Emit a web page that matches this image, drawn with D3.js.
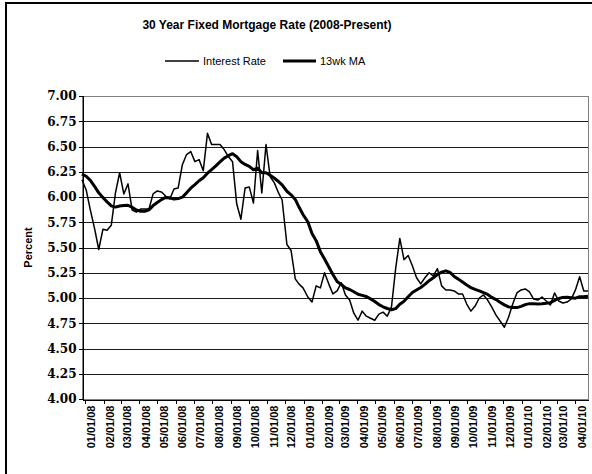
<!DOCTYPE html>
<html>
<head>
<meta charset="utf-8">
<script src="https://cdn.jsdelivr.net/npm/d3@7"></script>
<style>
  html, body { margin: 0; padding: 0; background: #fff; }
  svg { display: block; }
</style>
</head>
<body>
<svg id="chart" width="592" height="474"></svg>
<script>
// Weekly survey dates (Thursday releases, holiday weeks on Wednesday)
const weekDates = [
  "2007-12-27","2008-01-03","2008-01-10","2008-01-17","2008-01-24","2008-01-31","2008-02-07","2008-02-14",
  "2008-02-21","2008-02-28","2008-03-06","2008-03-13","2008-03-20","2008-03-27","2008-04-03","2008-04-10",
  "2008-04-17","2008-04-24","2008-05-01","2008-05-08","2008-05-15","2008-05-22","2008-05-29","2008-06-05",
  "2008-06-12","2008-06-19","2008-06-26","2008-07-03","2008-07-10","2008-07-17","2008-07-24","2008-07-31",
  "2008-08-07","2008-08-14","2008-08-21","2008-08-28","2008-09-04","2008-09-11","2008-09-18","2008-09-25",
  "2008-10-02","2008-10-09","2008-10-16","2008-10-23","2008-10-30","2008-11-06","2008-11-13","2008-11-20",
  "2008-11-26","2008-12-04","2008-12-11","2008-12-18","2008-12-24","2008-12-31","2009-01-08","2009-01-15",
  "2009-01-22","2009-01-29","2009-02-05","2009-02-12","2009-02-19","2009-02-26","2009-03-05","2009-03-12",
  "2009-03-19","2009-03-26","2009-04-02","2009-04-09","2009-04-16","2009-04-23","2009-04-30","2009-05-07",
  "2009-05-14","2009-05-21","2009-05-28","2009-06-04","2009-06-11","2009-06-18","2009-06-25","2009-07-02",
  "2009-07-09","2009-07-16","2009-07-23","2009-07-30","2009-08-06","2009-08-13","2009-08-20","2009-08-27",
  "2009-09-03","2009-09-10","2009-09-17","2009-09-24","2009-10-01","2009-10-08","2009-10-15","2009-10-22",
  "2009-10-29","2009-11-05","2009-11-12","2009-11-19","2009-11-25","2009-12-03","2009-12-10","2009-12-17",
  "2009-12-24","2009-12-31","2010-01-07","2010-01-14","2010-01-21","2010-01-28","2010-02-04","2010-02-11",
  "2010-02-18","2010-02-25","2010-03-04","2010-03-11","2010-03-18","2010-03-25","2010-04-01","2010-04-08",
  "2010-04-15","2010-04-22"
];

// 30-year fixed rate, percent
const interestRate = [
  6.17,6.07,5.87,5.69,5.48,5.68,5.67,5.72,
  6.04,6.24,6.03,6.13,5.87,5.85,5.88,5.88,
  5.88,6.03,6.06,6.05,6.01,5.98,6.08,6.09,
  6.32,6.42,6.45,6.35,6.37,6.26,6.63,6.52,
  6.52,6.52,6.47,6.40,6.35,5.93,5.78,6.09,
  6.10,5.94,6.46,6.04,6.52,6.20,6.14,6.04,
  5.97,5.53,5.47,5.19,5.14,5.10,5.01,4.96,
  5.12,5.10,5.25,5.14,5.04,5.07,5.15,5.03,
  4.98,4.85,4.78,4.87,4.82,4.80,4.78,4.84,
  4.86,4.82,4.91,5.29,5.59,5.38,5.42,5.32,
  5.20,5.14,5.20,5.25,5.22,5.29,5.12,5.08,
  5.08,5.07,5.04,5.04,4.94,4.87,4.92,5.00,
  5.03,4.98,4.91,4.83,4.78,4.71,4.81,4.94,
  5.05,5.08,5.09,5.06,4.99,4.98,5.01,4.97,
  4.93,5.05,4.97,4.95,4.96,4.99,5.08,5.21,
  5.07,5.07
];

// 13-week moving average, percent
const movingAvg13 = [
  6.227,6.205,6.165,6.106,6.041,5.996,5.952,5.912,
  5.900,5.911,5.916,5.918,5.897,5.872,5.858,5.858,
  5.873,5.915,5.945,5.974,5.996,5.992,5.979,5.984,
  5.998,6.041,6.087,6.123,6.161,6.190,6.236,6.272,
  6.308,6.347,6.385,6.409,6.429,6.399,6.350,6.322,
  6.303,6.270,6.285,6.240,6.240,6.215,6.186,6.153,
  6.120,6.057,6.022,5.976,5.903,5.826,5.755,5.639,
  5.568,5.459,5.386,5.309,5.232,5.163,5.134,5.100,
  5.084,5.062,5.037,5.026,5.015,4.991,4.966,4.935,
  4.913,4.896,4.884,4.895,4.938,4.968,5.012,5.054,
  5.079,5.104,5.135,5.171,5.200,5.233,5.256,5.269,
  5.253,5.213,5.187,5.158,5.128,5.103,5.086,5.071,
  5.054,5.035,5.006,4.984,4.961,4.932,4.912,4.905,
  4.905,4.917,4.934,4.944,4.944,4.940,4.942,4.947,
  4.954,4.975,4.995,5.006,5.008,5.003,4.998,5.012,
  5.012,5.018
];

// Axis tick values
const yTicks = [4.00,4.25,4.50,4.75,5.00,5.25,5.50,5.75,6.00,6.25,6.50,6.75,7.00];
const xTickMonths = [
  "2008-01-01","2008-02-01","2008-03-01","2008-04-01","2008-05-01","2008-06-01","2008-07-01",
  "2008-08-01","2008-09-01","2008-10-01","2008-11-01","2008-12-01","2009-01-01","2009-02-01",
  "2009-03-01","2009-04-01","2009-05-01","2009-06-01","2009-07-01","2009-08-01","2009-09-01",
  "2009-10-01","2009-11-01","2009-12-01","2010-01-01","2010-02-01","2010-03-01","2010-04-01"
];

const seriesNames = ["Interest Rate", "13wk MA"];
const titleText = "30 Year Fixed Mortgage Rate (2008-Present)";
const yAxisTitle = "Percent";

// ---- drawing ----
const parse = d3.utcParse("%Y-%m-%d");
const dates = weekDates.map(parse);
const tickDates = xTickMonths.map(parse);
const fmt = d3.utcFormat("%m/%d/%y");

const plot = { left: 82, right: 588, top: 96, bottom: 399 };

const x = d3.scaleUtc()
  .domain([dates[0], dates[dates.length - 1]])
  .range([plot.left, plot.right]);
const y = d3.scaleLinear()
  .domain([4, 7])
  .range([plot.bottom, plot.top]);

const svg = d3.select("#chart");

// chart area frame
svg.append("rect")
  .attr("x", 6).attr("y", 3)
  .attr("width", 640).attr("height", 520)
  .attr("fill", "#fff")
  .attr("stroke", "#000")
  .attr("stroke-width", 2);

// title
svg.append("text")
  .attr("x", 267).attr("y", 29)
  .attr("text-anchor", "middle")
  .attr("font-family", "'Liberation Sans', Arial, sans-serif")
  .attr("font-weight", "bold")
  .attr("font-size", 12)
  .attr("fill", "#000")
  .text(titleText);

// legend
const legend = svg.append("g").attr("font-family", "'Liberation Sans', Arial, sans-serif")
  .attr("font-size", 11);
const legendItems = [
  { name: seriesNames[0], x1: 165, x2: 199, w: 1.5 },
  { name: seriesNames[1], x1: 283, x2: 316, w: 3 }
];
legendItems.forEach(it => {
  legend.append("line")
    .attr("x1", it.x1).attr("x2", it.x2)
    .attr("y1", 61).attr("y2", 61)
    .attr("stroke", "#000").attr("stroke-width", it.w);
  legend.append("text")
    .attr("x", it.x2 + 4).attr("y", 65)
    .attr("fill", "#000")
    .text(it.name);
});

// plot area border
svg.append("rect")
  .attr("x", plot.left + 0.5).attr("y", plot.top + 0.5)
  .attr("width", plot.right - plot.left).attr("height", plot.bottom - plot.top)
  .attr("fill", "#fff")
  .attr("stroke", "#808080")
  .attr("stroke-width", 1)
  .attr("shape-rendering", "crispEdges");

// horizontal gridlines
svg.append("g")
  .selectAll("line")
  .data(yTicks.filter(v => v > 4 && v < 7))
  .join("line")
  .attr("x1", plot.left).attr("x2", plot.right)
  .attr("y1", d => Math.round(y(d)) + 0.5)
  .attr("y2", d => Math.round(y(d)) + 0.5)
  .attr("stroke", "#1a1a1a")
  .attr("stroke-width", 1)
  .attr("shape-rendering", "crispEdges");

// y axis
const yAxis = svg.append("g")
  .attr("transform", `translate(${plot.left + 0.5},0)`)
  .call(d3.axisLeft(y).tickValues(yTicks).tickFormat(d3.format(".2f")).tickSize(4).tickPadding(2));
yAxis.select(".domain").attr("stroke", "#000").attr("shape-rendering", "crispEdges");
yAxis.selectAll(".tick line").attr("stroke", "#000").attr("shape-rendering", "crispEdges");
yAxis.selectAll(".tick text")
  .attr("font-family", "'DejaVu Serif', serif")
  .attr("font-weight", "bold")
  .attr("font-size", 12)
  .attr("fill", "#000");

// x axis
const xAxis = svg.append("g")
  .attr("transform", `translate(0,${plot.bottom + 0.5})`)
  .call(d3.axisBottom(x).tickValues(tickDates).tickFormat(fmt).tickSize(4).tickSizeOuter(0));
xAxis.select(".domain").attr("stroke", "#000").attr("shape-rendering", "crispEdges");
xAxis.selectAll(".tick line").attr("stroke", "#000").attr("shape-rendering", "crispEdges");
xAxis.selectAll(".tick text")
  .attr("font-family", "'Liberation Sans', Arial, sans-serif")
  .attr("font-weight", "bold")
  .attr("font-size", 11)
  .attr("fill", "#000")
  .attr("text-anchor", "end")
  .attr("transform", "translate(6,6) rotate(-90)")
  .attr("x", 0).attr("y", 0)
  .attr("dy", "0.35em");

// y axis title
svg.append("text")
  .attr("transform", `translate(32,${(plot.top + plot.bottom) / 2}) rotate(-90)`)
  .attr("text-anchor", "middle")
  .attr("font-family", "'Liberation Sans', Arial, sans-serif")
  .attr("font-weight", "bold")
  .attr("font-size", 11)
  .attr("fill", "#000")
  .text(yAxisTitle);

// series lines
const line = d3.line()
  .x((d, i) => x(dates[i]))
  .y(d => y(d));

svg.append("path")
  .datum(interestRate)
  .attr("fill", "none")
  .attr("stroke", "#000")
  .attr("stroke-width", 1.5)
  .attr("stroke-linejoin", "round")
  .attr("d", line);

svg.append("path")
  .datum(movingAvg13)
  .attr("fill", "none")
  .attr("stroke", "#000")
  .attr("stroke-width", 3)
  .attr("stroke-linejoin", "round")
  .attr("d", line);
</script>
</body>
</html>
